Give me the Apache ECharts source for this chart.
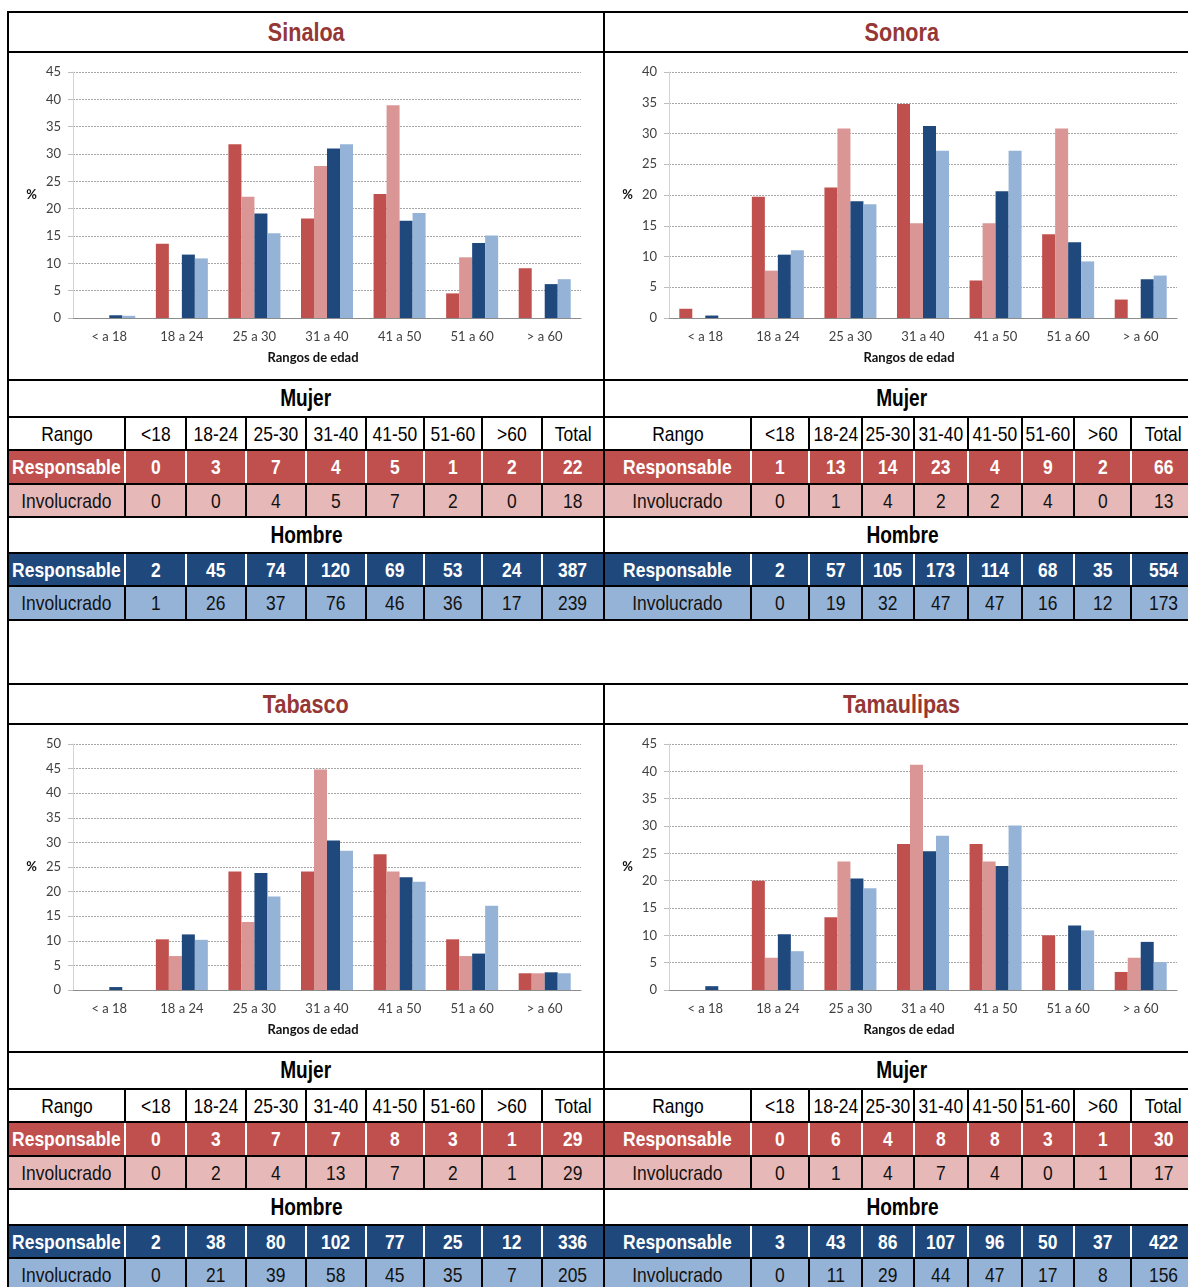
<!DOCTYPE html>
<html>
<head>
<meta charset="utf-8">
<script src="https://cdn.jsdelivr.net/npm/echarts@6/dist/echarts.min.js"></script>
<style>
  body { margin: 0; background: #fff; width: 1188px; height: 1287px; overflow: hidden; position: relative;
         font-family: "Liberation Sans", Arial, sans-serif; }
  .cell { position: absolute; display: flex; align-items: center; justify-content: center;
          font-size: 21px; box-sizing: border-box; white-space: nowrap; overflow: visible; }
  .cell span { display: inline-block; transform: scaleX(0.83); transform-origin: center; }
  .line { position: absolute; }
  .chart { position: absolute; }
  .title { color: #953735; font-weight: bold; font-size: 26px; }
  .head { font-size: 23px; }
</style>
</head>
<body>
<script>
// axis categories and table header
const categories = ['< a 18', '18 a 24', '25 a 30', '31 a 40', '41 a 50', '51 a 60', '> a 60'];
const rangoLabels = ['<18', '18-24', '25-30', '31-40', '41-50', '51-60', '>60', 'Total'];

// Sinaloa - counts (last = total) and % for the bars
const sinMujResp = [0, 3, 7, 4, 5, 1, 2, 22];
const sinMujInv = [0, 0, 4, 5, 7, 2, 0, 18];
const sinHomResp = [2, 45, 74, 120, 69, 53, 24, 387];
const sinHomInv = [1, 26, 37, 76, 46, 36, 17, 239];
const sinPctMujResp = [0, 13.6, 31.8, 18.2, 22.7, 4.5, 9.1];
const sinPctMujInv = [0, 0, 22.2, 27.8, 38.9, 11.1, 0];
const sinPctHomResp = [0.5, 11.6, 19.1, 31.0, 17.8, 13.7, 6.2];
const sinPctHomInv = [0.4, 10.9, 15.5, 31.8, 19.2, 15.1, 7.1];

// Sonora
const sonMujResp = [1, 13, 14, 23, 4, 9, 2, 66];
const sonMujInv = [0, 1, 4, 2, 2, 4, 0, 13];
const sonHomResp = [2, 57, 105, 173, 114, 68, 35, 554];
const sonHomInv = [0, 19, 32, 47, 47, 16, 12, 173];
const sonPctMujResp = [1.5, 19.7, 21.2, 34.8, 6.1, 13.6, 3.0];
const sonPctMujInv = [0, 7.7, 30.8, 15.4, 15.4, 30.8, 0];
const sonPctHomResp = [0.4, 10.3, 19.0, 31.2, 20.6, 12.3, 6.3];
const sonPctHomInv = [0, 11.0, 18.5, 27.2, 27.2, 9.2, 6.9];

// Tabasco
const tabMujResp = [0, 3, 7, 7, 8, 3, 1, 29];
const tabMujInv = [0, 2, 4, 13, 7, 2, 1, 29];
const tabHomResp = [2, 38, 80, 102, 77, 25, 12, 336];
const tabHomInv = [0, 21, 39, 58, 45, 35, 7, 205];
const tabPctMujResp = [0, 10.3, 24.1, 24.1, 27.6, 10.3, 3.4];
const tabPctMujInv = [0, 6.9, 13.8, 44.8, 24.1, 6.9, 3.4];
const tabPctHomResp = [0.6, 11.3, 23.8, 30.4, 22.9, 7.4, 3.6];
const tabPctHomInv = [0, 10.2, 19.0, 28.3, 22.0, 17.1, 3.4];

// Tamaulipas
const tamMujResp = [0, 6, 4, 8, 8, 3, 1, 30];
const tamMujInv = [0, 1, 4, 7, 4, 0, 1, 17];
const tamHomResp = [3, 43, 86, 107, 96, 50, 37, 422];
const tamHomInv = [0, 11, 29, 44, 47, 17, 8, 156];
const tamPctMujResp = [0, 20.0, 13.3, 26.7, 26.7, 10.0, 3.3];
const tamPctMujInv = [0, 5.9, 23.5, 41.2, 23.5, 0, 5.9];
const tamPctHomResp = [0.7, 10.2, 20.4, 25.4, 22.7, 11.8, 8.8];
const tamPctHomInv = [0, 7.1, 18.6, 28.2, 30.1, 10.9, 5.1];

const RED = '#C0504D', PINK = '#D99694', PINK_CELL = '#E6B9B8', NAVY = '#1F497D', SKY = '#95B3D7';

const leftCols = [8, 125, 186, 246, 306, 366, 424, 482, 542, 604];
const rightCols = [604, 751, 809, 862, 914, 968, 1022, 1074, 1131, 1196];
// row boundaries relative to panel top
const rows = [0, 40, 368, 405, 438, 472, 505, 541, 574, 608];

const panels = [
  { name: 'Sinaloa', cols: leftCols, top: 12, yMax: 45,
    counts: [sinMujResp, sinMujInv, sinHomResp, sinHomInv],
    pct: [sinPctMujResp, sinPctMujInv, sinPctHomResp, sinPctHomInv] },
  { name: 'Sonora', cols: rightCols, top: 12, yMax: 40,
    counts: [sonMujResp, sonMujInv, sonHomResp, sonHomInv],
    pct: [sonPctMujResp, sonPctMujInv, sonPctHomResp, sonPctHomInv] },
  { name: 'Tabasco', cols: leftCols, top: 684, yMax: 50,
    counts: [tabMujResp, tabMujInv, tabHomResp, tabHomInv],
    pct: [tabPctMujResp, tabPctMujInv, tabPctHomResp, tabPctHomInv] },
  { name: 'Tamaulipas', cols: rightCols, top: 684, yMax: 45,
    counts: [tamMujResp, tamMujInv, tamHomResp, tamHomInv],
    pct: [tamPctMujResp, tamPctMujInv, tamPctHomResp, tamPctHomInv] }
];

function box(x, y, w, h, bg, cls) {
  const d = document.createElement('div');
  d.className = cls || 'line';
  d.style.left = x + 'px'; d.style.top = y + 'px';
  d.style.width = w + 'px'; d.style.height = h + 'px';
  if (bg) d.style.background = bg;
  document.body.appendChild(d);
  return d;
}

function cell(x, y, w, h, text, bg, color, bold, extraCls) {
  const d = box(x, y, w, h, bg, 'cell' + (extraCls ? ' ' + extraCls : ''));
  const s = document.createElement('span');
  s.textContent = text;
  d.appendChild(s);
  d.style.color = color;
  if (bold) d.style.fontWeight = 'bold';
  return d;
}

function buildPanel(p) {
  const c = p.cols, x0 = c[0], x1 = c[c.length - 1], y = p.top;
  const W = x1 - x0;
  // titles and section headers, centred on the visible panel width
  cell(x0, y + rows[0], 596, rows[1] - rows[0], p.name, null, '#953735', true, 'title');
  cell(x0, y + rows[2], 596, rows[3] - rows[2], 'Mujer', null, '#000', true, 'head');
  cell(x0, y + rows[6], 596, rows[7] - rows[6], 'Hombre', null, '#000', true, 'head');

  const tableRows = [
    { r: 3, first: 'Rango', vals: rangoLabels, bg: '#fff', color: '#000', bold: false, sep: '#000' },
    { r: 4, first: 'Responsable', vals: p.counts[0], bg: RED, color: '#fff', bold: true, sep: '#fff' },
    { r: 5, first: 'Involucrado', vals: p.counts[1], bg: PINK_CELL, color: '#111', bold: false, sep: '#000' },
    { r: 7, first: 'Responsable', vals: p.counts[2], bg: NAVY, color: '#fff', bold: true, sep: '#fff' },
    { r: 8, first: 'Involucrado', vals: p.counts[3], bg: SKY, color: '#111', bold: false, sep: '#000' }
  ];
  tableRows.forEach(tr => {
    const ty = y + rows[tr.r], th = rows[tr.r + 1] - rows[tr.r];
    const texts = [tr.first].concat(tr.vals.map(String));
    for (let i = 0; i < texts.length; i++) {
      cell(c[i], ty, c[i + 1] - c[i], th, texts[i], tr.bg, tr.color, tr.bold);
    }
    for (let i = 1; i < c.length - 1; i++) {
      box(c[i] - 1, ty, 2, th, tr.sep);
    }
  });
  // horizontal rules
  rows.forEach(r => box(x0, y + r - 1, W, 2, '#000'));

  // chart
  const div = box(x0 + 2, y + rows[1] + 1, 592, rows[2] - rows[1] - 2, null, 'chart');
  const chart = echarts.init(div, null, { renderer: 'canvas' });
  const colors = [RED, PINK, NAVY, SKY];
  const names = ['Mujer Responsable', 'Mujer Involucrado', 'Hombre Responsable', 'Hombre Involucrado'];
  chart.setOption({
    animation: false,
    textStyle: { fontFamily: 'Lato, "Open Sans", sans-serif' },
    grid: { left: 63, top: 19, width: 508, height: 246 },
    xAxis: {
      type: 'category', data: categories,
      axisLine: { lineStyle: { color: '#8c8c8c', width: 1 } },
      axisTick: { length: 5, lineStyle: { color: '#8c8c8c' } },
      axisLabel: { fontSize: 13, color: '#404040', margin: 12 },
      name: 'Rangos de edad', nameLocation: 'middle', nameGap: 33,
      nameTextStyle: { fontSize: 13, fontWeight: 'bold', color: '#111', padding: [0, 28, 0, 0] }
    },
    yAxis: {
      type: 'value', min: 0, max: p.yMax, interval: 5,
      axisLine: { show: true, lineStyle: { color: '#d4d4d4' } },
      axisTick: { show: true, length: 5, lineStyle: { color: '#bdbdbd' } },
      axisLabel: { fontSize: 13, color: '#404040', margin: 12 },
      splitLine: { lineStyle: { color: '#a6a6a6', type: [2, 1], width: 1 } },
      name: '%', nameLocation: 'middle', nameRotate: 0, nameGap: 36,
      nameTextStyle: { fontSize: 13, fontWeight: 'bold', color: '#111' }
    },
    series: p.pct.map((d, i) => ({
      name: names[i], type: 'bar', data: d, barWidth: 13, barGap: '0%',
      itemStyle: { color: colors[i] }
    }))
  });
}

panels.forEach(buildPanel);

// outer frame
box(7, 11, 2, 1287 - 11, '#000');
box(603, 11, 2, 620 - 11, '#000');
box(603, 684, 2, 1287 - 684, '#000');
box(7, 619, 1188 - 7, 2, '#000');
box(7, 683, 1188 - 7, 2, '#000');
</script>
</body>
</html>
